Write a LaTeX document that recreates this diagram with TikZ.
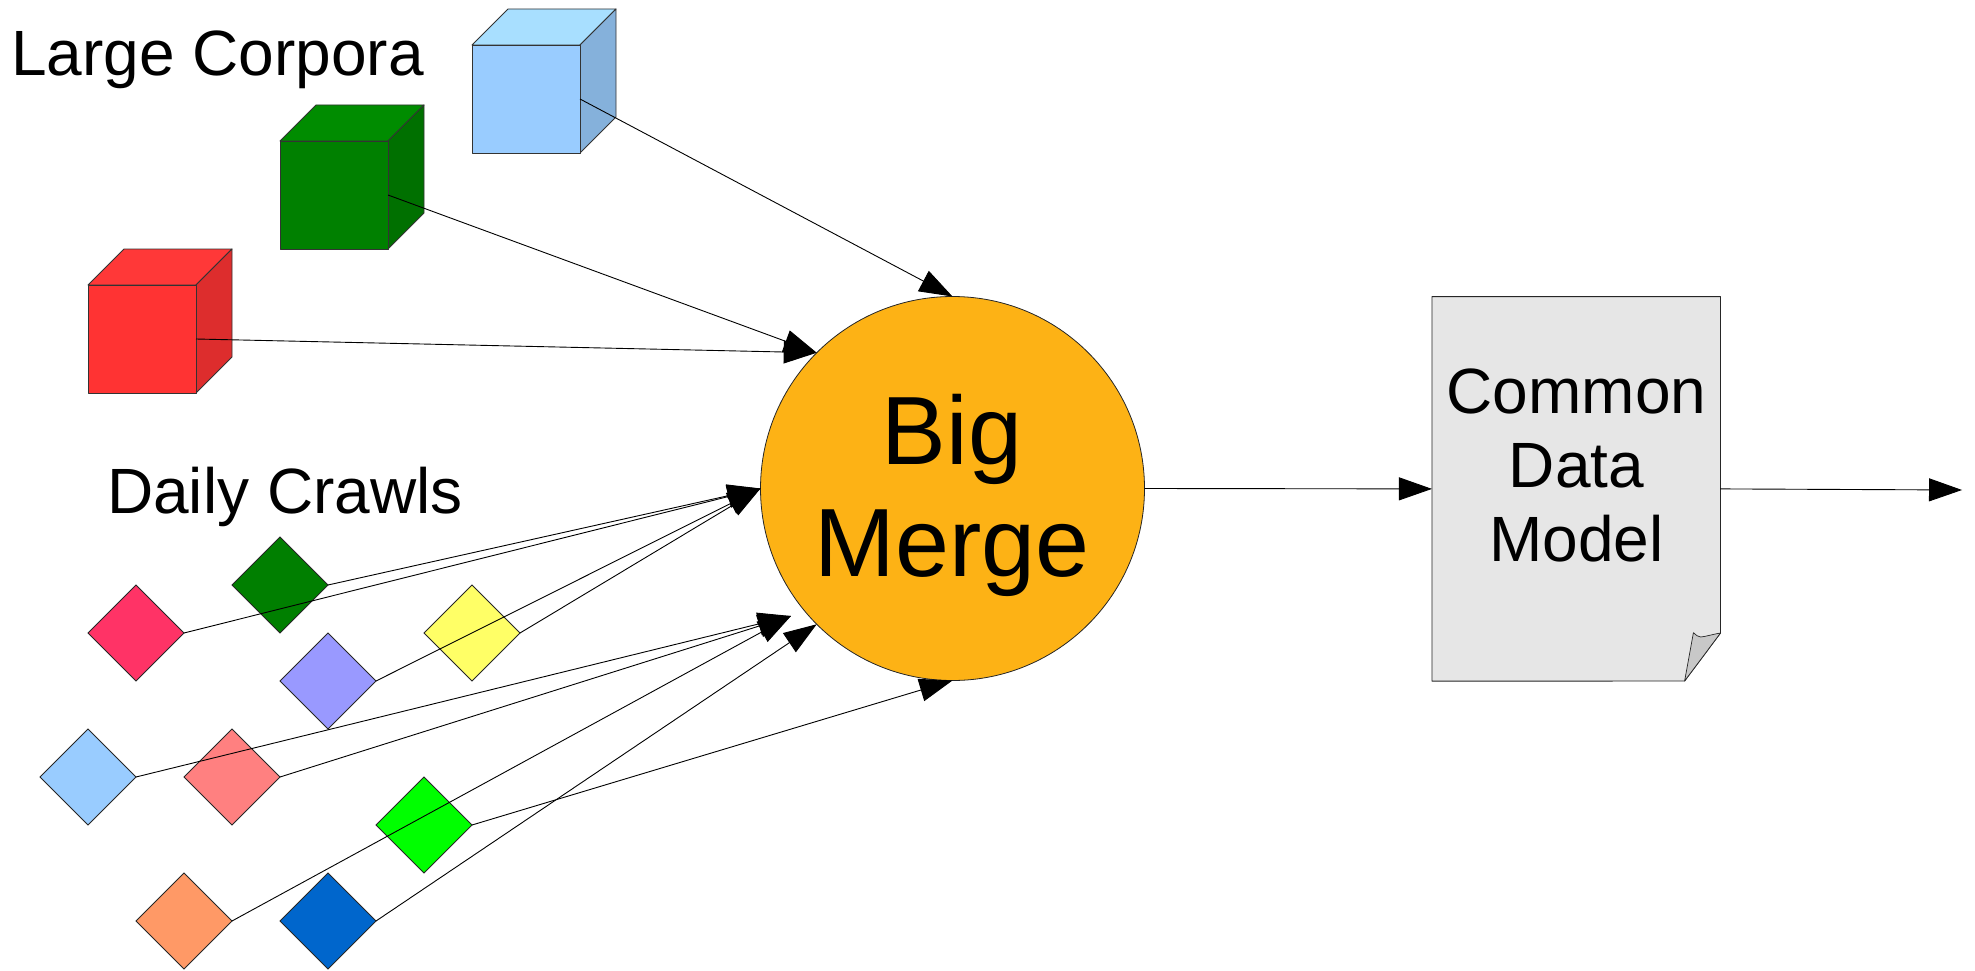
\documentclass[tikz,border=0pt]{standalone}
\usepackage{fontspec}
\setmainfont{Liberation Sans}
\usetikzlibrary{arrows.meta,shapes.geometric}
\newcommand{\cubeat}[6]{%
  \filldraw[cubeline,fill=#5] (#2,#3) -- ++(36,-36) -- ++(108,0) -- ++(-36,36) -- cycle;
  \filldraw[cubeline,fill=#6] (#2+108,#3) -- ++(36,-36) -- ++(0,108) -- ++(-36,36) -- cycle;
  \node[cubeline,cubefront,fill=#4,anchor=north west] (#1) at (#2,#3) {};
}
\definecolor{cbluef}{HTML}{99CCFF}\definecolor{cbluet}{HTML}{A8DFFF}\definecolor{cblues}{HTML}{85B1DB}
\definecolor{cgreenf}{HTML}{008000}\definecolor{cgreent}{HTML}{008C00}\definecolor{cgreens}{HTML}{007000}
\definecolor{credf}{HTML}{FF3333}\definecolor{credt}{HTML}{FF3838}\definecolor{creds}{HTML}{DD2D2D}
\definecolor{merge}{HTML}{FDB215}
\definecolor{docfill}{HTML}{E6E6E6}\definecolor{foldfill}{HTML}{C8C8C8}
\tikzset{
  cubeline/.style={draw=black!80,line width=0.9pt,line join=round},
  cubefront/.style={rectangle,minimum width=108pt,minimum height=108pt,inner sep=0pt,outer sep=0pt},
  crawl/.style={diamond,draw=black!85,line width=0.8pt,aspect=1,minimum width=96pt,minimum height=96pt,inner sep=0pt,outer sep=0pt},
  flow/.style={draw=black,line width=0.9pt,-{Triangle[length=33pt,width=23pt]}},
  big/.style={font=\fontsize{64}{74}\selectfont,inner sep=0pt,align=center},
  huge text/.style={font=\fontsize{97}{112}\selectfont,inner sep=0pt,align=center},
}
\begin{document}
\begin{tikzpicture}[x=1pt,y=-1pt]
\useasboundingbox (0,0) rectangle (1975,971);
% cubes
\cubeat{cubeblue}{472}{45}{cbluef}{cbluet}{cblues}
\cubeat{cubegreen}{280}{141}{cgreenf}{cgreent}{cgreens}
\cubeat{cubered}{88}{285}{credf}{credt}{creds}
% diamonds
\node[crawl,fill={rgb,255:red,0;green,127;blue,0}] (dgreen) at (280,585) {};
\node[crawl,fill={rgb,255:red,255;green,51;blue,102}] (pink) at (136,633) {};
\node[crawl,fill={rgb,255:red,255;green,255;blue,102}] (yellow) at (472,633) {};
\node[crawl,fill={rgb,255:red,153;green,153;blue,255}] (violet) at (328,681) {};
\node[crawl,fill={rgb,255:red,153;green,204;blue,255}] (lblue) at (88,777) {};
\node[crawl,fill={rgb,255:red,255;green,128;blue,128}] (salmon) at (232,777) {};
\node[crawl,fill={rgb,255:red,0;green,255;blue,0}] (bgreen) at (424,825) {};
\node[crawl,fill={rgb,255:red,255;green,153;blue,102}] (orange) at (184,921) {};
\node[crawl,fill={rgb,255:red,0;green,102;blue,204}] (dblue) at (328,921) {};
% merge circle
\node[circle,draw=black!85,line width=0.8pt,fill=merge,minimum size=384pt,inner sep=0pt,outer sep=0pt] (bm) at (952.5,488.5) {};
\node[huge text] (bmtext) at (952,495) {Big\\Merge};
% document
\node[rectangle,minimum width=288.5pt,minimum height=384.5pt,inner sep=0pt,outer sep=0pt] (doc) at (1576.2,488.9) {};
\filldraw[draw=black!85,line width=0.9pt,fill=docfill,line join=round]
  (doc.north west) -- (doc.north east) -- (1720.5,633) -- (1684.6,681) -- (doc.south west) -- cycle;
\filldraw[draw=black!85,line width=0.7pt,fill=foldfill,line join=round]
  (1720.5,633) -- (1684.6,681) -- (1693.4,632.7) .. controls (1696,635) and (1698,637) .. (1700.7,637) .. controls (1706,636.5) and (1714,634) .. cycle;
\node[big] (doctext) at (1576.5,465) {Common\\Data\\Model};
% labels
\node[big,anchor=base west] (lcorp) at (11,76) {Large Corpora};
\node[big,anchor=base west] (dcrawl) at (107,513) {Daily Crawls};
% free ends
\coordinate (lowtip) at (791,616);
\coordinate (out) at (1962,490);
% connectors
\draw[flow] (cubeblue.east) -- (bm.north);
\draw[flow] (cubegreen.east) -- (bm.135);
\draw[flow] (cubered.east) -- (bm.135);
\draw[flow] (dgreen.east) -- (bm.west);
\draw[flow] (pink.east) -- (bm.west);
\draw[flow] (violet.east) -- (bm.west);
\draw[flow] (yellow.east) -- (bm.west);
\draw[flow] (lblue.east) -- (lowtip);
\draw[flow] (salmon.east) -- (lowtip);
\draw[flow] (orange.east) -- (lowtip);
\draw[flow] (dblue.east) -- (bm.225);
\draw[flow] (bgreen.east) -- (bm.south);
\draw[flow] (bm.east) -- (doc.west);
\draw[flow] (doc.east) -- (out);
\end{tikzpicture}
\end{document}
